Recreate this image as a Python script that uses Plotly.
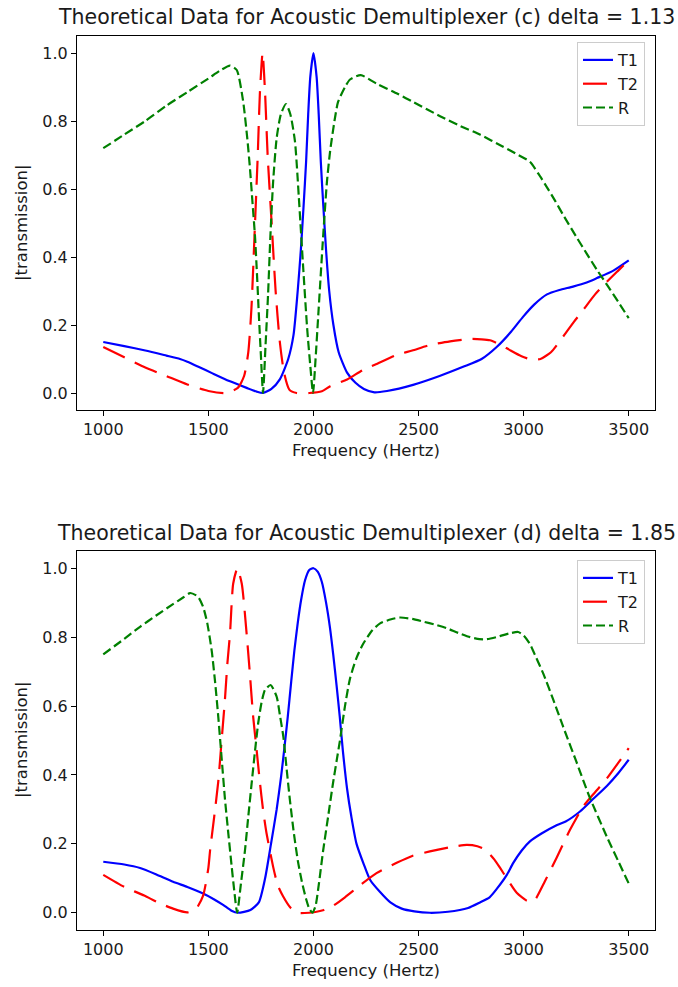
import plotly.graph_objects as go

# ---------------- data: (c) delta = 1.13 ----------------
t1c_f = [1000, 1100, 1200, 1300, 1365, 1400, 1450, 1522, 1600, 1682, 1730, 1760, 1800, 1840, 1880, 1905,
         1925, 1940, 1953, 1965, 1975, 1985, 2000, 2015, 2025, 2035, 2047, 2060, 2075, 2095, 2120,
         2160, 2200, 2240, 2290, 2350, 2474, 2600, 2712, 2800, 2873, 2940, 2997, 3050, 3111, 3170,
         3235, 3300, 3349, 3427, 3500]
t1c_v = [0.15, 0.138, 0.125, 0.11, 0.10, 0.092, 0.078, 0.057, 0.035, 0.015, 0.004, 0.0, 0.012, 0.04, 0.1, 0.17,
         0.3, 0.42, 0.55, 0.68, 0.82, 0.93, 1.0, 0.93, 0.82, 0.68, 0.55, 0.42, 0.3, 0.2, 0.12,
         0.06, 0.03, 0.012, 0.002, 0.006, 0.024, 0.05, 0.077, 0.1, 0.136, 0.18, 0.224, 0.26, 0.29, 0.303,
         0.313, 0.325, 0.338, 0.36, 0.39]

t2c_f = [1000, 1100, 1200, 1300, 1400, 1500, 1580, 1640, 1670, 1690, 1705, 1722, 1735, 1745, 1758,
         1770, 1782, 1801, 1820, 1840, 1860, 1885, 1920, 1980, 2040, 2080, 2160, 2236, 2300, 2396,
         2470, 2554, 2650, 2745, 2800, 2840, 2890, 2935, 2990, 3040, 3080, 3130, 3188, 3240, 3283,
         3340, 3396, 3450, 3500]
t2c_v = [0.135, 0.105, 0.075, 0.05, 0.025, 0.006, 0.0, 0.015, 0.05, 0.12, 0.25, 0.5, 0.7, 0.88, 1.0,
         0.88, 0.7, 0.5, 0.3, 0.15, 0.06, 0.01, 0.0, 0.0, 0.005, 0.02, 0.04, 0.068, 0.085, 0.112,
         0.125, 0.141, 0.152, 0.159, 0.158, 0.155, 0.142, 0.126, 0.108, 0.098, 0.1, 0.12, 0.166, 0.21, 0.244,
         0.29, 0.327, 0.36, 0.39]

rc_f = [1000, 1100, 1200, 1300, 1400, 1500, 1560, 1603, 1635, 1665, 1685, 1698, 1710, 1722, 1732,
        1741, 1750, 1760, 1772, 1784, 1795, 1808, 1825, 1845, 1869, 1890, 1912, 1930, 1950, 1970,
        1985, 1998, 2010, 2022, 2046, 2064, 2079, 2100, 2117, 2150, 2174, 2225, 2300, 2400, 2474,
        2600, 2700, 2792, 2900, 2960, 3030, 3070, 3111, 3150, 3187, 3250, 3300, 3349, 3400, 3450, 3500]
rc_v = [0.72, 0.76, 0.80, 0.845, 0.885, 0.925, 0.95, 0.963, 0.95, 0.86, 0.75, 0.66, 0.56, 0.46, 0.34,
        0.22, 0.11, 0.0, 0.14, 0.29, 0.46, 0.62, 0.75, 0.82, 0.85, 0.82, 0.74, 0.58, 0.38, 0.19,
        0.08, 0.0, 0.1, 0.22, 0.46, 0.62, 0.71, 0.8, 0.856, 0.9, 0.922, 0.935, 0.91, 0.88, 0.856,
        0.815, 0.785, 0.76, 0.725, 0.705, 0.68, 0.645, 0.605, 0.565, 0.525, 0.46, 0.41, 0.362, 0.315, 0.268, 0.22]

# ---------------- data: (d) delta = 1.85 ----------------
t1d_f = [1000, 1100, 1175, 1250, 1332, 1400, 1475, 1530, 1570, 1610, 1640, 1700, 1740, 1770, 1798,
         1825, 1846, 1862, 1878, 1894, 1909, 1925, 1941, 1960, 1980, 2000, 2020, 2040, 2060, 2078,
         2094, 2110, 2125, 2140, 2160, 2180, 2205, 2240, 2270, 2317, 2366, 2420, 2480, 2554, 2640,
         2736, 2792, 2838, 2873, 2920, 2950, 2990, 3030, 3085, 3159, 3200, 3268, 3330, 3396, 3450, 3500]
t1d_v = [0.148, 0.14, 0.13, 0.112, 0.09, 0.075, 0.056, 0.038, 0.023, 0.006, 0.0, 0.008, 0.03, 0.1, 0.2,
         0.3, 0.395, 0.48, 0.57, 0.67, 0.76, 0.84, 0.907, 0.965, 0.995, 1.0, 0.99, 0.96, 0.9, 0.83,
         0.75, 0.66, 0.57, 0.47, 0.36, 0.28, 0.2, 0.14, 0.095, 0.06, 0.03, 0.012, 0.004, 0.0, 0.003,
         0.014, 0.03, 0.045, 0.07, 0.11, 0.144, 0.18, 0.207, 0.23, 0.255, 0.265, 0.294, 0.33, 0.368, 0.405, 0.444]

t2d_f = [1000, 1100, 1195, 1260, 1332, 1400, 1440, 1475, 1500, 1508, 1528, 1547, 1563, 1579, 1590,
         1603, 1618, 1638, 1659, 1682, 1698, 1713, 1730, 1745, 1760, 1777, 1808, 1830, 1856, 1890,
         1920, 1980, 2015, 2050, 2093, 2150, 2222, 2300, 2396, 2470, 2554, 2650, 2729, 2780, 2818,
         2860, 2888, 2920, 2967, 3015, 3044, 3062, 3100, 3157, 3220, 3283, 3340, 3396, 3450, 3500]
t2d_v = [0.11, 0.075, 0.05, 0.03, 0.012, 0.001, 0.01, 0.05, 0.13, 0.18, 0.28, 0.38, 0.5, 0.62, 0.72,
         0.81, 0.955, 1.0, 0.955, 0.81, 0.69, 0.57, 0.47, 0.38, 0.3, 0.23, 0.134, 0.08, 0.047, 0.015,
         0.0, 0.0, 0.003, 0.008, 0.02, 0.045, 0.08, 0.115, 0.145, 0.165, 0.178, 0.19, 0.197, 0.193, 0.183,
         0.155, 0.13, 0.1, 0.058, 0.035, 0.032, 0.045, 0.09, 0.16, 0.24, 0.308, 0.35, 0.39, 0.435, 0.478]

rd_f = [1000, 1100, 1175, 1250, 1330, 1380, 1413, 1450, 1475, 1495, 1516, 1532, 1547, 1563, 1579,
        1595, 1611, 1623, 1637, 1655, 1674, 1690, 1706, 1722, 1737, 1753, 1769, 1796, 1825, 1840,
        1857, 1872, 1888, 1907, 1926, 1945, 1965, 1980, 1995, 2010, 2025, 2046, 2070, 2093, 2110,
        2126, 2150, 2174, 2205, 2236, 2280, 2317, 2370, 2412, 2470, 2523, 2580, 2634, 2690, 2745,
        2790, 2824, 2870, 2903, 2940, 2974, 3000, 3030, 3060, 3093, 3140, 3188, 3250, 3311, 3400, 3450, 3500]
rd_v = [0.75, 0.795, 0.83, 0.862, 0.895, 0.915, 0.928, 0.918, 0.888, 0.84, 0.76, 0.67, 0.57, 0.45, 0.33,
        0.23, 0.134, 0.065, 0.0, 0.085, 0.18, 0.28, 0.376, 0.47, 0.55, 0.61, 0.646, 0.661, 0.627, 0.575,
        0.51, 0.42, 0.327, 0.23, 0.15, 0.09, 0.04, 0.012, 0.0, 0.02, 0.08, 0.18, 0.28, 0.376, 0.44,
        0.5, 0.6, 0.68, 0.74, 0.78, 0.82, 0.84, 0.852, 0.857, 0.853, 0.845, 0.836, 0.826, 0.812, 0.80,
        0.794, 0.794, 0.8, 0.806, 0.812, 0.815, 0.805, 0.78, 0.74, 0.695, 0.62, 0.54, 0.44, 0.34, 0.215, 0.15, 0.085]

titles = ["Theoretical Data for Acoustic Demultiplexer (c) delta = 1.13",
          "Theoretical Data for Acoustic Demultiplexer (d) delta = 1.85"]
series_names = ["T1", "T2", "R"]
x_ticks = [1000, 1500, 2000, 2500, 3000, 3500]
y_ticks = [0.0, 0.2, 0.4, 0.6, 0.8, 1.0]
x_label = "Frequency (Hertz)"
y_label = "|transmission|"

# ---------------- styling ----------------
FONT = "DejaVu Sans"
TXT = "#1a1a1a"
styles = [dict(color="#0000ff", width=2.2, dash="solid", shape="spline", smoothing=0.6),
          dict(color="#ff0000", width=2.2, dash="24px,11px", shape="spline", smoothing=0.6),
          dict(color="#008000", width=2.2, dash="9px,4px", shape="spline", smoothing=0.6)]

W, H = 678, 987
ML, MR, MT, MB = 77, 23, 36, 57
PH = H - MT - MB


def py(px):
    return (H - MB - px) / PH


fig = go.Figure()

panels = [
    ((t1c_f, t1c_v), (t2c_f, t2c_v), (rc_f, rc_v)),
    ((t1d_f, t1d_v), (t2d_f, t2d_v), (rd_f, rd_v)),
]
axis_sfx = ["", "2"]
legend_ids = ["legend", "legend2"]
for pi, panel in enumerate(panels):
    for si, (fx, fy) in enumerate(panel):
        fig.add_trace(go.Scatter(
            x=fx, y=fy, mode="lines", name=series_names[si],
            line=styles[si], xaxis="x" + axis_sfx[pi], yaxis="y" + axis_sfx[pi],
            legend=legend_ids[pi], showlegend=True))

axis_common = dict(showgrid=False, zeroline=False, showline=True, mirror=True,
                   linecolor="#000000", linewidth=1.1, ticks="outside", ticklen=5,
                   tickwidth=1.1, tickcolor="#000000",
                   tickfont=dict(family=FONT, size=16, color=TXT))

top_dom = [py(410), py(36)]
bot_dom = [py(930), py(551)]

fig.update_layout(
    width=W, height=H,
    margin=dict(l=ML, r=MR, t=MT, b=MB),
    paper_bgcolor="white", plot_bgcolor="white",
    font=dict(family=FONT, color=TXT),
    xaxis=dict(axis_common, domain=[0, 1], range=[875, 3625], tickvals=x_ticks, anchor="y"),
    yaxis=dict(axis_common, domain=top_dom, range=[-0.05, 1.05], tickvals=y_ticks,
               tickformat=".1f", anchor="x"),
    xaxis2=dict(axis_common, domain=[0, 1], range=[875, 3625], tickvals=x_ticks, anchor="y2"),
    yaxis2=dict(axis_common, domain=bot_dom, range=[-0.05, 1.05], tickvals=y_ticks,
                tickformat=".1f", anchor="x2"),
)

leg_common = dict(xref="paper", yref="paper", xanchor="right", yanchor="top",
                  bgcolor="rgba(255,255,255,0.85)", bordercolor="#cccccc", borderwidth=1,
                  font=dict(family=FONT, size=16, color=TXT), tracegroupgap=0, itemwidth=30)
fig.update_layout(
    legend=dict(leg_common, x=(645 - ML) / (W - ML - MR), y=py(42)),
    legend2=dict(leg_common, x=(645 - ML) / (W - ML - MR), y=py(560)),
)

ann = []
for title, ty in zip(titles, [17, 533]):
    ann.append(dict(text=title, xref="paper", yref="paper", x=0.5, y=py(ty),
                    xanchor="center", yanchor="middle", showarrow=False,
                    font=dict(family=FONT, size=20.5, color=TXT)))
for ly in [450, 970]:
    ann.append(dict(text=x_label, xref="paper", yref="paper", x=0.5, y=py(ly),
                    xanchor="center", yanchor="middle", showarrow=False,
                    font=dict(family=FONT, size=16.5, color=TXT)))
for cy in [223, 740]:
    ann.append(dict(text=y_label, xref="paper", yref="paper", x=(21 - ML) / (W - ML - MR),
                    y=py(cy), xanchor="center", yanchor="middle", textangle=-90,
                    showarrow=False, font=dict(family=FONT, size=16.5, color=TXT)))
fig.update_layout(annotations=ann)

fig.write_html("out.html")
